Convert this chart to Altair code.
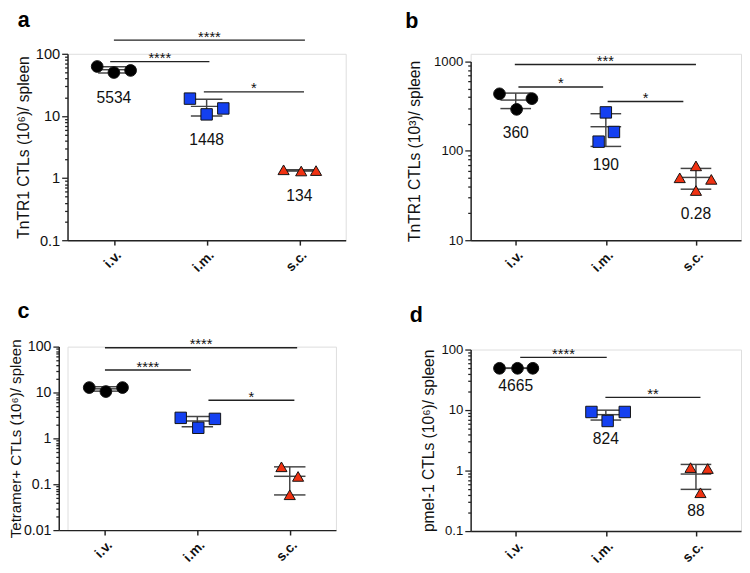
import math
import altair as alt
import pandas as pd
import numpy as np

GROUPS = ["i.v.", "i.m.", "s.c."]
COLORS = ["#000000", "#1440F0", "#F03212"]
SHAPES = ["circle", "square", "triangle-up"]
SIZES = [144, 130, 150]

# ---- panel a ----
a_iv = [62.5, 50.0, 54.0]
a_im = [19.0, 10.6, 13.2]
a_sc = [1.36, 1.30, 1.32]
a_spread = [[-0.18, 0.0, 0.18], [-0.18, 0.0, 0.18], [-0.17, 0.02, 0.18]]
a_labels = ["5534", "1448", "134"]
a_sig_from = [0.0, -0.04, 0.97]
a_sig_to = [2.06, 1.03, 2.05]
a_sig_y = [166, 74.8, 24.4]
a_sig_text = ["****", "****", "*"]

# ---- panel b ----
b_iv = [436, 292, 385]
b_im = [127, 270, 163]
b_sc = [50, 68, 48, 36]
b_spread = [[-0.18, 0.01, 0.18], [-0.08, 0.0, 0.09], [-0.18, 0.0, 0.17, 0.0]]
b_labels = ["360", "190", "0.28"]
b_sig_from = [-0.01, 0.03, 1.02]
b_sig_to = [2.0, 0.97, 1.86]
b_sig_y = [927, 520, 357]
b_sig_text = ["***", "*", "*"]

# ---- panel c ----
c_iv = [12.8, 10.5, 12.8]
c_im = [2.8, 1.7, 2.66]
c_sc = [0.24, 0.148, 0.059]
c_spread = [[-0.17, 0.01, 0.19], [-0.18, 0.01, 0.19], [-0.09, 0.09, 0.0]]
c_labels = []
c_sig_from = [0.0, 0.0, 1.12]
c_sig_to = [2.08, 0.93, 2.05]
c_sig_y = [95, 30.8, 6.76]
c_sig_text = ["****", "****", "*"]

# ---- panel d ----
d_iv = [49, 49, 49]
d_im = [9.3, 6.6, 9.3]
d_sc = [1.12, 1.08, 0.43]
d_spread = [[-0.18, 0.02, 0.19], [-0.16, 0.02, 0.21], [-0.06, 0.13, 0.05]]
d_labels = ["4665", "824", "88"]
d_sig_from = [0.05, 0.995]
d_sig_to = [1.01, 2.05]
d_sig_y = [74.3, 16.2]
d_sig_text = ["****", "**"]

MAJOR = "abs(log(datum.value)/LN10 - round(log(datum.value)/LN10)) < 0.001"
HALF = 0.17


def build(letter, values, spread, labels, sig_from, sig_to, sig_y, sig_text,
          domain, ytitle, width, height, label_fs, title_fs, title_pad,
          title_offset, title_dx, label_dy, yrange=None, xrange=None, yoffset=0):
    lo, hi = domain
    pts, err, lab = [], [], []
    for g, (vals, spr) in enumerate(zip(values, spread)):
        for v, s in zip(vals, spr):
            pts.append({"x": g + s, "y": v, "grp": GROUPS[g]})
        m = float(np.mean(vals))
        sd = float(np.std(vals, ddof=1))
        err.append({"x": g, "x2": g, "y": m - sd, "y2": m + sd})
        for yy in (m - sd, m, m + sd):
            err.append({"x": g - HALF, "x2": g + HALF, "y": yy, "y2": yy})
        if labels:
            lab.append({"x": g, "y": min(vals), "text": labels[g]})
    sig = [{"x": f, "x2": t, "y": y, "y2": y, "xm": (f + t) / 2, "text": s}
           for f, t, y, s in zip(sig_from, sig_to, sig_y, sig_text)]

    e0 = round(math.log10(lo))
    e1 = round(math.log10(hi))
    ticks = [m * 10.0 ** e for e in range(e0, e1) for m in range(1, 10)] + [10.0 ** e1]

    xscale = dict(domain=[-0.5, 2.5], nice=False, zero=False)
    if xrange:
        xscale["range"] = xrange
    yscale = dict(type="log", domain=[lo, hi], nice=False)
    if yrange:
        yscale["range"] = yrange

    X = alt.X("x:Q", scale=alt.Scale(**xscale), axis=alt.Axis(
        values=[0, 1, 2],
        labelExpr="['i.v.','i.m.','s.c.'][round(datum.value)]",
        labelAngle=-45, labelFontSize=14, labelFontWeight="bold",
        labelColor="#111111", labelPadding=3, labelFlush=False,
        tickSize=5, tickWidth=1.5, tickColor="#222222",
        domainColor="#222222", domainWidth=1.5, grid=False, title=None))
    Y = alt.Y("y:Q", scale=alt.Scale(**yscale), axis=alt.Axis(
        values=ticks,
        labelExpr=f"({MAJOR}) ? format(datum.value, '~g') : ''",
        labelOverlap=False, labelFlush=False,
        tickSize={"condition": {"test": MAJOR, "value": 6}, "value": 3},
        tickWidth=1.3, tickColor="#222222",
        domainColor="#222222", domainWidth=1.5, grid=False,
        labelFontSize=label_fs, labelColor="#111111", labelPadding=2,
        title=ytitle, titleFontSize=title_fs, titleFontWeight="normal",
        titleColor="#111111", titlePadding=title_pad, offset=yoffset))

    err_layer = alt.Chart(pd.DataFrame(err)).mark_rule(
        color="#444444", strokeWidth=1.5).encode(x=X, x2="x2:Q", y=Y, y2="y2:Q")
    pt_layer = alt.Chart(pd.DataFrame(pts)).mark_point(
        filled=True, opacity=1, stroke="#111111", strokeWidth=1).encode(
        x=X, y=Y,
        color=alt.Color("grp:N", scale=alt.Scale(domain=GROUPS, range=COLORS), legend=None),
        shape=alt.Shape("grp:N", scale=alt.Scale(domain=GROUPS, range=SHAPES), legend=None),
        size=alt.Size("grp:N", scale=alt.Scale(domain=GROUPS, range=SIZES), legend=None))
    sig_df = pd.DataFrame(sig)
    sig_layer = alt.Chart(sig_df).mark_rule(
        color="#222222", strokeWidth=1.5).encode(x=X, x2="x2:Q", y=Y, y2="y2:Q")
    star_layer = alt.Chart(sig_df).mark_text(
        fontSize=15, baseline="alphabetic", dy=1.5, color="#111111").encode(
        x=alt.X("xm:Q", scale=alt.Scale(**xscale)), y=Y, text="text:N")
    layers = [err_layer, pt_layer, sig_layer, star_layer]
    if lab:
        layers.append(alt.Chart(pd.DataFrame(lab)).mark_text(
            fontSize=16, baseline="middle", dy=label_dy, color="#111111").encode(
            x=X, y=Y, text="text:N"))
    return alt.layer(*layers).properties(
        width=width, height=height,
        title=alt.TitleParams(text=letter, anchor="start", frame="bounds",
                              fontSize=22, fontWeight="bold", color="#000000",
                              baseline="alphabetic", offset=title_offset,
                              dx=title_dx))


pa = build("a", [a_iv, a_im, a_sc], a_spread, a_labels, a_sig_from, a_sig_to,
           a_sig_y, a_sig_text, (0.1, 100), "TnTR1 CTLs (10⁶)/ spleen",
           285, 191, 15, 16, 4, -19.5, 2, 26)
pb = build("b", [b_iv, b_im, b_sc], b_spread, b_labels, b_sig_from, b_sig_to,
           b_sig_y, b_sig_text, (10, 1000), "TnTR1 CTLs (10³)/ spleen",
           277, 191, 13.5, 16, 11, 4.5, -2, 24, yrange=[191, 8])
pc = build("c", [c_iv, c_im, c_sc], c_spread, c_labels, c_sig_from, c_sig_to,
           c_sig_y, c_sig_text, (0.01, 100), "Tetramer+ CTLs (10⁶)/ spleen",
           275, 188, 14.5, 15.5, 0, -2.5, 9, 20, xrange=[-9, 275], yoffset=9)
pd_ = build("d", [d_iv, d_im, d_sc], d_spread, d_labels, d_sig_from, d_sig_to,
            d_sig_y, d_sig_text, (0.1, 100), "pmel-1 CTLs (10⁶)/ spleen",
            277, 186, 13.5, 16, 5, -1, -11, 18.5)

left = alt.vconcat(pa, pc, spacing=25)
right = alt.vconcat(pb, pd_, spacing=29)
chart = alt.hconcat(left, right, spacing=59).properties(
    padding={"left": 0, "top": -6, "right": 0, "bottom": 0}
).configure_view(stroke=None).configure(font="Liberation Sans")

chart.save("out.html", embed_options={"renderer": "svg", "actions": False})
